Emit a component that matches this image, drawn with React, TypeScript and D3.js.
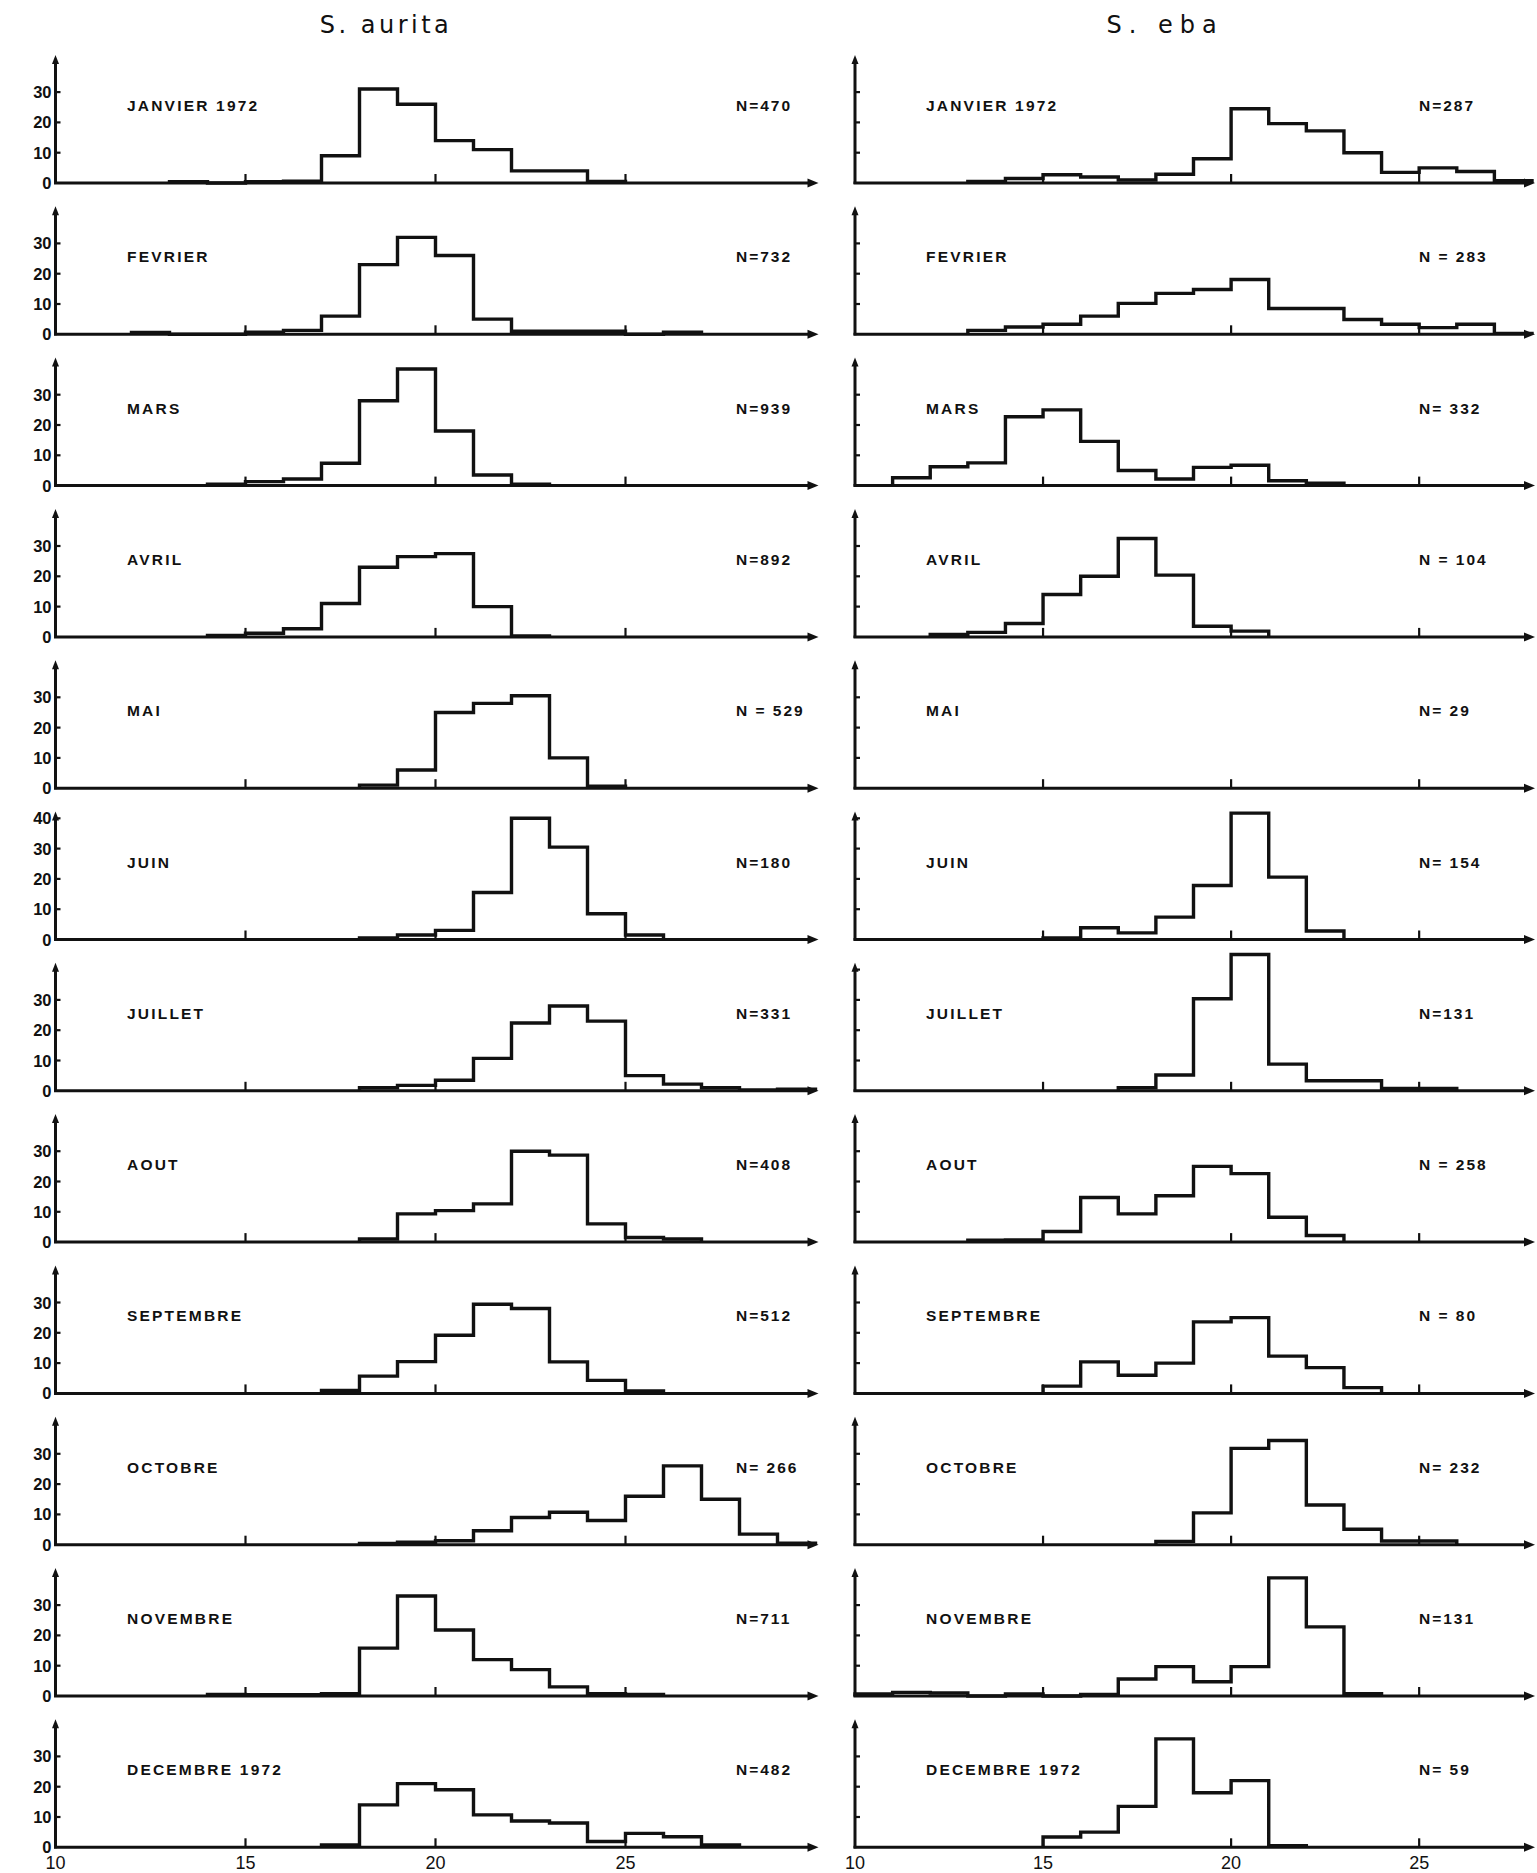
import React from 'react';
import * as d3 from 'd3';

const W = 1537;
const H = 1873;

// Month labels (both species)
const months = [
  'JANVIER 1972', 'FEVRIER', 'MARS', 'AVRIL', 'MAI', 'JUIN',
  'JUILLET', 'AOUT', 'SEPTEMBRE', 'OCTOBRE', 'NOVEMBRE', 'DECEMBRE 1972',
];

// Sample sizes
const auritaN = ['N=470', 'N=732', 'N=939', 'N=892', 'N = 529', 'N=180', 'N=331', 'N=408', 'N=512', 'N= 266', 'N=711', 'N=482'];
const ebaN = ['N=287', 'N = 283', 'N= 332', 'N = 104', 'N= 29', 'N= 154', 'N=131', 'N = 258', 'N = 80', 'N= 232', 'N=131', 'N= 59'];

// Length classes (cm): first class start and axis extent
const auritaDomain = [10, 30];
const ebaDomain = [10, 28];
const xTickValues = [15, 20, 25];
const xAxisLabels = [10, 15, 20, 25];

// S. aurita, % per 1-cm class starting at 10 (10-11, 11-12, ... 29-30)
const auritaJan = [0, 0, 0, 0.4, 0, 0.4, 0.6, 9, 31, 26, 14, 11, 4, 4, 0.5, 0, 0, 0, 0, 0];
const auritaFeb = [0, 0, 0.6, 0, 0, 0.7, 1.3, 6, 23, 32, 26, 5, 1, 1, 1, 0, 0.7, 0, 0, 0];
const auritaMar = [0, 0, 0, 0, 0.5, 1.3, 2.2, 7.4, 28, 38.5, 18, 3.5, 0.5, 0, 0, 0, 0, 0, 0, 0];
const auritaAvr = [0, 0, 0, 0, 0.5, 1.2, 2.7, 11, 23, 26.5, 27.5, 10, 0.3, 0, 0, 0, 0, 0, 0, 0];
const auritaMai = [0, 0, 0, 0, 0, 0, 0, 0, 1, 6, 25, 28, 30.5, 10, 0.7, 0, 0, 0, 0, 0];
const auritaJuin = [0, 0, 0, 0, 0, 0, 0, 0, 0.5, 1.5, 3, 15.5, 40, 30.5, 8.5, 1.5, 0, 0, 0, 0];
const auritaJuil = [0, 0, 0, 0, 0, 0, 0, 0, 1, 1.8, 3.5, 10.7, 22.4, 28, 23, 5, 2.2, 1, 0.3, 0.5];
const auritaAout = [0, 0, 0, 0, 0, 0, 0, 0, 1, 9.3, 10.4, 12.6, 30, 28.7, 6, 1.5, 1, 0, 0, 0];
const auritaSep = [0, 0, 0, 0, 0, 0, 0, 1, 5.7, 10.5, 19.2, 29.4, 28, 10.4, 4.3, 0.8, 0, 0, 0, 0];
const auritaOct = [0, 0, 0, 0, 0, 0, 0, 0, 0.4, 0.8, 1.3, 4.6, 9, 10.7, 8, 16, 26, 15, 3.5, 0.5];
const auritaNov = [0, 0, 0, 0, 0.5, 0.4, 0.4, 0.8, 15.8, 33, 21.8, 12, 8.7, 3, 0.8, 0.5, 0, 0, 0, 0];
const auritaDec = [0, 0, 0, 0, 0, 0, 0, 0.8, 14, 21, 19, 10.7, 8.7, 8, 1.9, 4.6, 3.5, 0.8, 0, 0];

// S. eba, % per 1-cm class starting at 10 (10-11 ... 27-28)
const ebaJan = [0, 0, 0, 0.5, 1.5, 2.7, 2, 1, 2.9, 8, 24.5, 19.6, 17.2, 10, 3.5, 5, 3.8, 0.8];
const ebaFeb = [0, 0, 0, 1.3, 2.4, 3.3, 6, 10.2, 13.5, 14.8, 18.1, 8.5, 8.5, 4.9, 3.3, 2.2, 3.3, 0.3];
const ebaMar = [0, 2.6, 6.2, 7.5, 22.7, 25, 14.6, 5, 2.2, 6, 6.7, 1.6, 0.8, 0, 0, 0, 0, 0];
const ebaAvr = [0, 0, 0.8, 1.5, 4.4, 14, 20, 32.5, 20.4, 3.5, 1.9, 0, 0, 0, 0, 0, 0, 0];
const ebaMai = [0, 0, 0, 0, 0, 0, 0, 0, 0, 0, 0, 0, 0, 0, 0, 0, 0, 0];
const ebaJuin = [0, 0, 0, 0, 0, 0.5, 3.9, 2.2, 7.4, 17.8, 41.7, 20.6, 2.8, 0, 0, 0, 0, 0];
const ebaJuil = [0, 0, 0, 0, 0, 0, 0, 1, 5.2, 30.4, 45, 8.8, 3.3, 3.3, 0.8, 0.8, 0, 0];
const ebaAout = [0, 0, 0, 0.6, 0.7, 3.5, 14.7, 9.3, 15.3, 25, 22.6, 8.2, 2.2, 0, 0, 0, 0, 0];
const ebaSep = [0, 0, 0, 0, 0, 2.4, 10.4, 6, 10, 23.6, 25, 12.3, 8.5, 1.9, 0, 0, 0, 0];
const ebaOct = [0, 0, 0, 0, 0, 0, 0, 0, 1.1, 10.5, 31.8, 34.4, 13.1, 5.1, 1.2, 1.2, 0, 0];
const ebaNov = [0.7, 1.2, 1, 0, 0.7, 0, 0.5, 5.6, 9.7, 4.7, 9.7, 39, 22.8, 0.8, 0, 0, 0, 0];
const ebaDec = [0, 0, 0, 0, 0, 3.4, 5, 13.5, 35.8, 18, 22, 0.5, 0, 0, 0, 0, 0, 0];

const auritaSeries = [auritaJan, auritaFeb, auritaMar, auritaAvr, auritaMai, auritaJuin, auritaJuil, auritaAout, auritaSep, auritaOct, auritaNov, auritaDec];
const ebaSeries = [ebaJan, ebaFeb, ebaMar, ebaAvr, ebaMai, ebaJuin, ebaJuil, ebaAout, ebaSep, ebaOct, ebaNov, ebaDec];

// y-axis ticks per panel
const auritaYTicks = [
  [0, 10, 20, 30], [0, 10, 20, 30], [0, 10, 20, 30], [0, 10, 20, 30], [0, 10, 20, 30], [0, 10, 20, 30, 40],
  [0, 10, 20, 30], [0, 10, 20, 30], [0, 10, 20, 30], [0, 10, 20, 30], [0, 10, 20, 30], [0, 10, 20, 30],
];
const ebaYTicks = [
  [10, 20, 30], [10, 20, 30], [10, 20, 30], [10, 20, 30], [10, 20, 30], [10, 20, 30, 40],
  [10, 20, 30, 40], [10, 20, 30], [10, 20, 30], [10, 20, 30], [10, 20, 30], [10, 20, 30],
];

const STROKE = 3;
const INK = '#111';
const LABEL_FONT = '"Liberation Sans", Arial, sans-serif';

type PanelProps = {
  x: d3.ScaleLinear<number, number>;
  base: number;
  values: number[];
  start: number;
  yTicks: number[];
  tickLabels: boolean;
  month: string;
  n: string;
  monthX: number;
  nX: number;
};

function Panel({ x, base, values, start, yTicks, tickLabels, month, n, monthX, nX }: PanelProps) {
  const y = d3.scaleLinear().domain([0, 42]).range([base, base - 42 * 3.03]);
  const x0 = x.range()[0];
  const xEnd = x.range()[1];
  const top = base - 128;

  const first = values.findIndex((v) => v > 0);
  let last = -1;
  values.forEach((v, i) => { if (v > 0) last = i; });
  let path: string | null = null;
  if (first >= 0) {
    const pts: [number, number][] = [[x(start + first), y(0)]];
    for (let i = first; i <= last; i++) {
      pts.push([x(start + i), y(values[i])]);
      pts.push([x(start + i + 1), y(values[i])]);
    }
    pts.push([x(start + last + 1), y(0)]);
    path = d3.line()(pts);
  }

  return (
    <g>
      {/* y axis */}
      <line x1={x0} x2={x0} y1={base + 1} y2={top + 6} stroke={INK} strokeWidth={STROKE} />
      <polygon points={`${x0},${top} ${x0 - 3.5},${top + 9} ${x0 + 3.5},${top + 9}`} fill={INK} />
      {/* x axis */}
      <line x1={x0 - 1.5} x2={xEnd - 6} y1={base} y2={base} stroke={INK} strokeWidth={STROKE} />
      <polygon points={`${xEnd + 3},${base} ${xEnd - 8},${base - 4.5} ${xEnd - 8},${base + 4.5}`} fill={INK} />
      {xTickValues.map((t) => (
        <line key={t} x1={x(t)} x2={x(t)} y1={base} y2={base - 9} stroke={INK} strokeWidth={2.2} />
      ))}
      {yTicks.map((t) => (
        <g key={t}>
          {t > 0 && <line x1={x0} x2={x0 + 5} y1={y(t)} y2={y(t)} stroke={INK} strokeWidth={2.2} />}
          {tickLabels && (
            <text x={x0 - 4} y={y(t) + 6} textAnchor="end" fontFamily={LABEL_FONT} fontWeight="bold" fontSize={16.5} fill={INK}>
              {t}
            </text>
          )}
        </g>
      ))}
      {path && <path d={path} fill="none" stroke={INK} strokeWidth={STROKE + 0.4} strokeLinejoin="miter" />}
      <text x={monthX} y={base - 72} fontFamily={LABEL_FONT} fontWeight="bold" fontSize={15.5} letterSpacing={2.2} fill={INK}>
        {month}
      </text>
      <text x={nX} y={base - 72} fontFamily={LABEL_FONT} fontWeight="bold" fontSize={15.5} letterSpacing={2} fill={INK}>
        {n}
      </text>
    </g>
  );
}

export default function App() {
  const xLeft = d3.scaleLinear().domain(auritaDomain).range([55.5, 815.5]);
  const xRight = d3.scaleLinear().domain(ebaDomain).range([855, 1532]);
  const rowBase = (i: number) => 183 + i * 151.3;
  const lastBase = rowBase(11);

  return (
    <svg width={W} height={H} viewBox={`0 0 ${W} ${H}`} style={{ position: 'absolute', left: 0, top: 0, background: '#fff' }}>
      <rect x={0} y={0} width={W} height={H} fill="#fff" />
      <text x={386} y={33} textAnchor="middle" fontFamily='"DejaVu Sans", sans-serif' fontSize={24} letterSpacing={3.5} fill={INK}>
        S. aurita
      </text>
      <text x={1165} y={33} textAnchor="middle" fontFamily='"DejaVu Sans", sans-serif' fontSize={24} letterSpacing={7} fill={INK}>
        S. eba
      </text>
      {months.map((m, i) => (
        <Panel key={'a' + i} x={xLeft} base={rowBase(i)} values={auritaSeries[i]} start={auritaDomain[0]}
          yTicks={auritaYTicks[i]} tickLabels={true} month={m} n={auritaN[i]} monthX={127} nX={736} />
      ))}
      {months.map((m, i) => (
        <Panel key={'e' + i} x={xRight} base={rowBase(i)} values={ebaSeries[i]} start={ebaDomain[0]}
          yTicks={ebaYTicks[i]} tickLabels={false} month={m} n={ebaN[i]} monthX={926} nX={1419} />
      ))}
      {xAxisLabels.map((v) => (
        <text key={'la' + v} x={xLeft(v)} y={lastBase + 22} textAnchor="middle" fontFamily={LABEL_FONT} fontSize={18} fill={INK}>
          {v}
        </text>
      ))}
      {xAxisLabels.map((v) => (
        <text key={'lr' + v} x={xRight(v)} y={lastBase + 22} textAnchor="middle" fontFamily={LABEL_FONT} fontSize={18} fill={INK}>
          {v}
        </text>
      ))}
    </svg>
  );
}
